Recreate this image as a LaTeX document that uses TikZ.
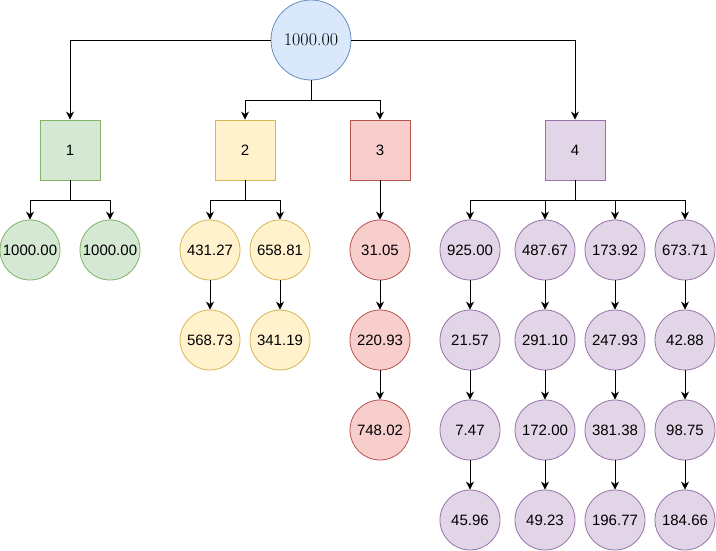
\documentclass[tikz,border=0pt]{standalone}
\usepackage{fontspec}
\setsansfont{Liberation Sans}
\usetikzlibrary{arrows.meta}

\definecolor{bluefill}{HTML}{DAE8FC}\definecolor{bluedraw}{HTML}{6C8EBF}
\definecolor{greenfill}{HTML}{D5E8D4}\definecolor{greendraw}{HTML}{82B366}
\definecolor{yellowfill}{HTML}{FFF2CC}\definecolor{yellowdraw}{HTML}{D6B656}
\definecolor{redfill}{HTML}{F8CECC}\definecolor{reddraw}{HTML}{B85450}
\definecolor{purplefill}{HTML}{E1D5E7}\definecolor{purpledraw}{HTML}{9673A6}

\tikzset{
  valcircle/.style={circle, minimum size=60pt, inner sep=0pt, line width=0.8pt,
    font=\sffamily\fontsize{15}{18}\selectfont},
  groupbox/.style={rectangle, minimum size=60pt, inner sep=0pt, line width=0.8pt,
    font=\sffamily\fontsize{15}{18}\selectfont},
  green/.style={fill=greenfill, draw=greendraw},
  yellow/.style={fill=yellowfill, draw=yellowdraw},
  red/.style={fill=redfill, draw=reddraw},
  purple/.style={fill=purplefill, draw=purpledraw},
  arr/.style={draw=black, line width=0.9pt, -{Stealth[length=8pt,width=8pt,inset=2.5pt]}}
}

\begin{document}
\begin{tikzpicture}[x=1pt, y=-1pt]
\useasboundingbox (0,0) rectangle (716,551);

% root
\node[circle, minimum size=80pt, inner sep=0pt, fill=bluefill, draw=bluedraw, line width=0.8pt,
  font=\fontsize{18}{21}\selectfont] (root) at (311,40) {1000.00};

% groups
\node[groupbox, green]  (s1) at (70,150)  {1};
\node[groupbox, yellow] (s2) at (245,150) {2};
\node[groupbox, red]    (s3) at (380,150) {3};
\node[groupbox, purple] (s4) at (575,150) {4};

% group 1
\node[valcircle, green] (g1) at (30,250)  {1000.00};
\node[valcircle, green] (g2) at (110,250) {1000.00};

% group 2
\node[valcircle, yellow] (ya1) at (210,250) {431.27};
\node[valcircle, yellow] (ya2) at (210,340) {568.73};
\node[valcircle, yellow] (yb1) at (280,250) {658.81};
\node[valcircle, yellow] (yb2) at (280,340) {341.19};

% group 3
\node[valcircle, red] (r1) at (380,250) {31.05};
\node[valcircle, red] (r2) at (380,340) {220.93};
\node[valcircle, red] (r3) at (380,430) {748.02};

% group 4
\node[valcircle, purple] (pa1) at (470,250) {925.00};
\node[valcircle, purple] (pa2) at (470,340) {21.57};
\node[valcircle, purple] (pa3) at (470,430) {7.47};
\node[valcircle, purple] (pa4) at (470,520) {45.96};
\node[valcircle, purple] (pb1) at (545,250) {487.67};
\node[valcircle, purple] (pb2) at (545,340) {291.10};
\node[valcircle, purple] (pb3) at (545,430) {172.00};
\node[valcircle, purple] (pb4) at (545,520) {49.23};
\node[valcircle, purple] (pc1) at (615,250) {173.92};
\node[valcircle, purple] (pc2) at (615,340) {247.93};
\node[valcircle, purple] (pc3) at (615,430) {381.38};
\node[valcircle, purple] (pc4) at (615,520) {196.77};
\node[valcircle, purple] (pd1) at (685,250) {673.71};
\node[valcircle, purple] (pd2) at (685,340) {42.88};
\node[valcircle, purple] (pd3) at (685,430) {98.75};
\node[valcircle, purple] (pd4) at (685,520) {184.66};

% root to groups
\draw[arr] (root.west) -| (s1.north);
\draw[arr] (root.east) -| (s4.north);
\draw[arr] (root.south) -- ++(0,20) -| (s2.north);
\draw[arr] (root.south) -- ++(0,20) -| (s3.north);

% groups to first values
\foreach \c in {g1,g2} \draw[arr] (s1.south) -- ++(0,20) -| (\c.north);
\foreach \c in {ya1,yb1} \draw[arr] (s2.south) -- ++(0,20) -| (\c.north);
\draw[arr] (s3.south) -- (r1.north);
\foreach \c in {pa1,pb1,pc1,pd1} \draw[arr] (s4.south) -- ++(0,20) -| (\c.north);

% chains
\draw[arr] (ya1) -- (ya2);
\draw[arr] (yb1) -- (yb2);
\draw[arr] (r1) -- (r2);
\draw[arr] (r2) -- (r3);
\foreach \p in {pa,pb,pc,pd} {
  \draw[arr] (\p1) -- (\p2);
  \draw[arr] (\p2) -- (\p3);
  \draw[arr] (\p3) -- (\p4);
}
\end{tikzpicture}
\end{document}
